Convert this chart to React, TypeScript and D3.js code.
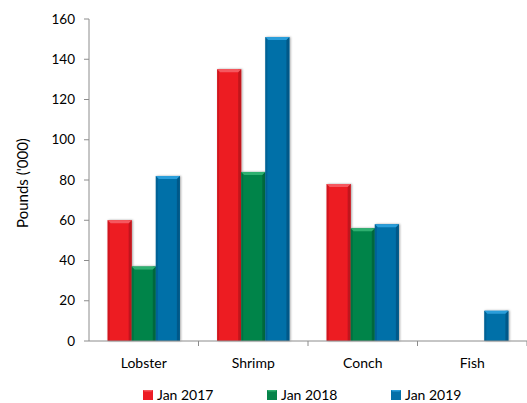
import React from "react";
import * as d3 from "d3";

const categories = ["Lobster", "Shrimp", "Conch", "Fish"];
const seriesNames = ["Jan 2017", "Jan 2018", "Jan 2019"];
const jan2017 = [60, 135, 78, 0];
const jan2018 = [37, 84, 56, 0];
const jan2019 = [82, 151, 58, 15];
const yTicks = [0, 20, 40, 60, 80, 100, 120, 140, 160];

const seriesValues = [jan2017, jan2018, jan2019];
const colors = [
  { base: "#ED1C24", light: "#F5585E", dark: "#B5141A" },
  { base: "#06844A", light: "#2FB070", dark: "#04603A" },
  { base: "#0470A8", light: "#2A9EDA", dark: "#035481" },
];

const W = 527;
const H = 403;
const margin = { left: 89, right: 0, top: 19, bottom: 62 };
const FONT = "Lato, 'Open Sans', sans-serif";

export default function App() {
  const x0 = d3
    .scaleBand<string>()
    .domain(categories)
    .range([margin.left, margin.left + 438])
    .paddingInner(0.34)
    .paddingOuter(0.17);
  const x1 = d3.scaleBand<number>().domain([0, 1, 2]).range([0, x0.bandwidth()]);
  const y = d3.scaleLinear().domain([0, 160]).range([H - margin.bottom, margin.top]);
  const y0 = y(0);
  const axisColor = "#8c8c8c";
  const step = 438 / categories.length;

  const bevel = 3;

  return (
    <svg width={W} height={H} style={{ position: "absolute", left: 0, top: 0 }}>
      <rect x={0} y={0} width={W} height={H} fill="#fff" />
      <defs>
        <filter id="sh" x="-20%" y="-20%" width="140%" height="140%">
          <feDropShadow dx="1" dy="0" stdDeviation="0.8" floodColor="#000" floodOpacity="0.35" />
        </filter>
      </defs>
      {/* bars */}
      {categories.map((c, ci) =>
        seriesValues.map((vals, si) => {
          const v = vals[ci];
          if (!v) return null;
          const bx = (x0(c) as number) + (x1(si) as number);
          const bw = x1.bandwidth();
          const by = y(v);
          const bh = y0 - by;
          const col = colors[si];
          return (
            <g key={`${c}-${si}`} filter="url(#sh)">
              <rect x={bx} y={by} width={bw} height={bh} fill={col.base} />
              <rect x={bx} y={by} width={bevel - 1} height={bh} fill={col.dark} opacity={0.5} />
              <rect x={bx + bw - bevel} y={by} width={bevel} height={bh} fill={col.dark} opacity={0.8} />
              <polygon
                points={`${bx},${by} ${bx + bw},${by} ${bx + bw - bevel},${by + bevel} ${bx + bevel},${by + bevel}`}
                fill={col.light}
              />
            </g>
          );
        })
      )}
      {/* y axis */}
      <line x1={margin.left} x2={margin.left} y1={margin.top} y2={y0} stroke={axisColor} />
      {yTicks.map((t) => (
        <g key={t}>
          <line x1={margin.left - 5} x2={margin.left} y1={y(t)} y2={y(t)} stroke={axisColor} />
          <text
            x={margin.left - 14}
            y={y(t)}
            dy="0.35em"
            textAnchor="end"
            fontFamily={FONT}
            fontSize={13.5}
            fill="#000"
          >
            {t}
          </text>
        </g>
      ))}
      {/* x axis */}
      <line x1={margin.left} x2={W} y1={y0} y2={y0} stroke={axisColor} />
      {categories.map((c, i) => (
        <g key={c}>
          <line
            x1={margin.left + step * (i + 1)}
            x2={margin.left + step * (i + 1)}
            y1={y0}
            y2={y0 + 5}
            stroke={axisColor}
          />
          <text
            x={(x0(c) as number) + x0.bandwidth() / 2}
            y={y0 + 22}
            dy="0.35em"
            textAnchor="middle"
            fontFamily={FONT}
            fontSize={14}
            fill="#000"
          >
            {c}
          </text>
        </g>
      ))}
      <text
        transform={`translate(28, 183) rotate(-90)`}
        textAnchor="middle"
        fontFamily={FONT}
        fontSize={15}
        fill="#000"
      >
        Pounds ('000)
      </text>
      {/* legend */}
      {seriesNames.map((n, i) => {
        const lx = 143 + i * 124;
        const ly = 395;
        const col = colors[i];
        return (
          <g key={n}>
            <rect x={lx} y={ly - 5} width={10} height={10} fill={col.base} />
            <polygon
              points={`${lx},${ly - 5} ${lx + 10},${ly - 5} ${lx + 8.5},${ly - 3.5} ${lx + 1.5},${ly - 3.5}`}
              fill={col.light}
            />
            <text x={lx + 14} y={ly} dy="0.35em" fontFamily={FONT} fontSize={14} fill="#000">
              {n}
            </text>
          </g>
        );
      })}
    </svg>
  );
}
